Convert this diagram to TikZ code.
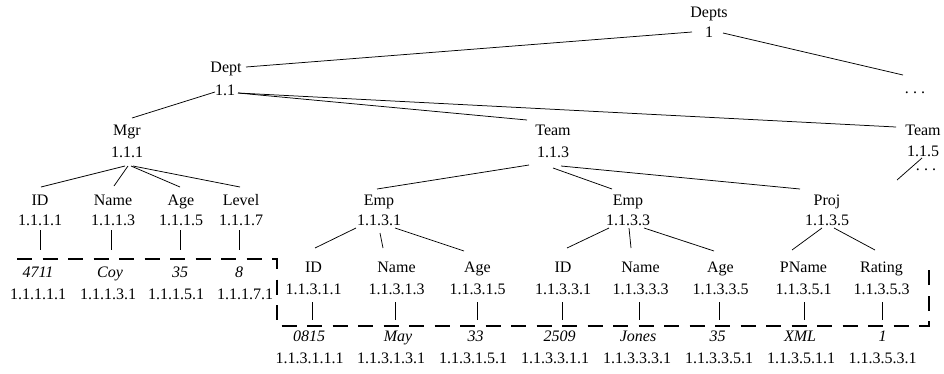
\documentclass[tikz,border=0pt]{standalone}
\usepackage{fontspec}
\setmainfont{Liberation Serif}
\newcommand{\mydots}{.\kern4.2pt.\kern4.2pt.}
\begin{document}
\begin{tikzpicture}[x=1pt,y=-1pt,
  lbl/.style={inner sep=0pt,anchor=base,font=\fontsize{16}{20}\selectfont},
  val/.style={lbl,font=\fontsize{16}{20}\selectfont\itshape},
  edge/.style={line width=0.75pt},
  dashbox/.style={line width=2.6pt,dash pattern=on 15pt off 10.5pt}]
\useasboundingbox (0,0) rectangle (944,373);
% level 0
\node[lbl] (depts) at (709,17) {Depts};
\node[lbl] (depts-i) at (709,37) {1};
% level 1
\node[lbl] (dept) at (226,72) {Dept};
\node[lbl] (dept-i) at (225,95) {1.1};
\node[lbl] (dots1) at (915,93) {\mydots};
% level 2
\node[lbl] (mgr) at (127,135) {Mgr};
\node[lbl] (mgr-i) at (127,157) {1.1.1};
\node[lbl] (team1) at (553,135) {Team};
\node[lbl] (team1-i) at (553,157) {1.1.3};
\node[lbl] (team2) at (923,135) {Team};
\node[lbl] (team2-i) at (923,156) {1.1.5};
\node[lbl] (dots2) at (926,170) {\mydots};
\coordinate (e6end) at (897,180);
% level 3
\node[lbl] (id1) at (40,205) {ID};
\node[lbl] (id1-i) at (40,225) {1.1.1.1};
\node[lbl] (name1) at (113,205) {Name};
\node[lbl] (name1-i) at (113,225) {1.1.1.3};
\node[lbl] (age1) at (181,205) {Age};
\node[lbl] (age1-i) at (181,225) {1.1.1.5};
\node[lbl] (level) at (241,205) {Level};
\node[lbl] (level-i) at (241,225) {1.1.1.7};
\node[lbl] (emp1) at (379,205) {Emp};
\node[lbl] (emp1-i) at (379,225) {1.1.3.1};
\node[lbl] (emp2) at (628,205) {Emp};
\node[lbl] (emp2-i) at (628,225) {1.1.3.3};
\node[lbl] (proj) at (827,205) {Proj};
\node[lbl] (proj-i) at (827,225) {1.1.3.5};
% Mgr values
\node[val] (v1) at (38,277) {4711};
\node[lbl] (v1-i) at (38,299) {1.1.1.1.1};
\node[val] (v2) at (110,277) {Coy};
\node[lbl] (v2-i) at (108,299) {1.1.1.3.1};
\node[val] (v3) at (180,277) {35};
\node[lbl] (v3-i) at (176,299) {1.1.1.5.1};
\node[val] (v4) at (239,277) {8};
\node[lbl] (v4-i) at (245,299) {1.1.1.7.1};
% level 4 (team leaves)
\node[lbl] (id2) at (313.5,272) {ID};
\node[lbl] (id2-i) at (313.5,294) {1.1.3.1.1};
\node[lbl] (name2) at (396.5,272) {Name};
\node[lbl] (name2-i) at (396.5,294) {1.1.3.1.3};
\node[lbl] (age2) at (477.5,272) {Age};
\node[lbl] (age2-i) at (477.5,294) {1.1.3.1.5};
\node[lbl] (id3) at (563,272) {ID};
\node[lbl] (id3-i) at (563,294) {1.1.3.3.1};
\node[lbl] (name3) at (640.5,272) {Name};
\node[lbl] (name3-i) at (640.5,294) {1.1.3.3.3};
\node[lbl] (age3) at (720.5,272) {Age};
\node[lbl] (age3-i) at (720.5,294) {1.1.3.3.5};
\node[lbl] (pname) at (803.5,272) {PName};
\node[lbl] (pname-i) at (803.5,294) {1.1.3.5.1};
\node[lbl] (rating) at (881.5,272) {Rating};
\node[lbl] (rating-i) at (881.5,294) {1.1.3.5.3};
% level 5 values
\node[val] (w1) at (309,341) {0815};
\node[lbl] (w1-i) at (309.5,363) {1.1.3.1.1.1};
\node[val] (w2) at (398,341) {May};
\node[lbl] (w2-i) at (391,363) {1.1.3.1.3.1};
\node[val] (w3) at (475.5,341) {33};
\node[lbl] (w3-i) at (473,363) {1.1.3.1.5.1};
\node[val] (w4) at (559.5,341) {2509};
\node[lbl] (w4-i) at (555,363) {1.1.3.3.1.1};
\node[val] (w5) at (638,341) {Jones};
\node[lbl] (w5-i) at (637,363) {1.1.3.3.3.1};
\node[val] (w6) at (717.5,341) {35};
\node[lbl] (w6-i) at (719,363) {1.1.3.3.5.1};
\node[val] (w7) at (800,341) {XML};
\node[lbl] (w7-i) at (801,363) {1.1.3.5.1.1};
\node[val] (w8) at (882.5,341) {1};
\node[lbl] (w8-i) at (882.5,363) {1.1.3.5.3.1};
% edges
\draw[edge] ([shift={(-17,-5)}]depts-i.base) -- ([shift={(20,-5)}]dept.base);
\draw[edge] ([shift={(14,-4)}]depts-i.base) -- ([shift={(-12,-18)}]dots1.base);
\draw[edge] ([shift={(-10,-3)}]dept-i.base) -- ([shift={(5,-17)}]mgr.base);
\draw[edge] ([shift={(13,-2)}]dept-i.base) -- ([shift={(-26,-15)}]team1.base);
\draw[edge] ([shift={(13,-2)}]dept-i.base) -- ([shift={(-27,-8)}]team2.base);
\draw[edge] ([shift={(-1,2)}]team2-i.base) -- (e6end);
\draw[edge] ([shift={(-2,9)}]mgr-i.base) -- ([shift={(1,-18)}]id1.base);
\draw[edge] ([shift={(1,9)}]mgr-i.base) -- ([shift={(1,-19)}]name1.base);
\draw[edge] ([shift={(4,9)}]mgr-i.base) -- ([shift={(-1,-18)}]age1.base);
\draw[edge] ([shift={(6,9)}]mgr-i.base) -- ([shift={(-1,-18)}]level.base);
\draw[edge] ([shift={(-24,8)}]team1-i.base) -- ([shift={(-2,-16)}]emp1.base);
\draw[edge] ([shift={(0,11)}]team1-i.base) -- ([shift={(-16,-16)}]emp2.base);
\draw[edge] ([shift={(8,9)}]team1-i.base) -- ([shift={(-27,-16)}]proj.base);
\draw[edge] ([shift={(-23,3)}]emp1-i.base) -- ([shift={(1.5,-24)}]id2.base);
\draw[edge] ([shift={(1,8)}]emp1-i.base) -- ([shift={(-13.5,-24)}]name2.base);
\draw[edge] ([shift={(16,3)}]emp1-i.base) -- ([shift={(-13.5,-21)}]age2.base);
\draw[edge] ([shift={(-19,3)}]emp2-i.base) -- ([shift={(4,-24)}]id3.base);
\draw[edge] ([shift={(1,3)}]emp2-i.base) -- ([shift={(-9.5,-24)}]name3.base);
\draw[edge] ([shift={(16,3)}]emp2-i.base) -- ([shift={(-6.5,-21)}]age3.base);
\draw[edge] ([shift={(-5,3)}]proj-i.base) -- ([shift={(-11.5,-22)}]pname.base);
\draw[edge] ([shift={(7,3)}]proj-i.base) -- ([shift={(-6.5,-22)}]rating.base);
% vertical connectors to values
\draw[edge] ([shift={(0,5)}]id1-i.base) -- ([shift={(2,-27)}]v1.base);
\draw[edge] ([shift={(-2,5)}]name1-i.base) -- ([shift={(1,-27)}]v2.base);
\draw[edge] ([shift={(-1,5)}]age1-i.base) -- ([shift={(0,-27)}]v3.base);
\draw[edge] ([shift={(-2,5)}]level-i.base) -- ([shift={(0,-27)}]v4.base);
\draw[edge] ([shift={(-1.5,8)}]id2-i.base) -- ([shift={(3,-21)}]w1.base);
\draw[edge] ([shift={(-1.5,8)}]name2-i.base) -- ([shift={(-3,-21)}]w2.base);
\draw[edge] ([shift={(-0.5,8)}]age2-i.base) -- ([shift={(1.5,-21)}]w3.base);
\draw[edge] ([shift={(-1,8)}]id3-i.base) -- ([shift={(2.5,-21)}]w4.base);
\draw[edge] ([shift={(-1.5,8)}]name3-i.base) -- ([shift={(1,-21)}]w5.base);
\draw[edge] ([shift={(-1.5,8)}]age3-i.base) -- ([shift={(1.5,-21)}]w6.base);
\draw[edge] ([shift={(0.5,8)}]pname-i.base) -- ([shift={(4,-21)}]w7.base);
\draw[edge] ([shift={(0.5,8)}]rating-i.base) -- ([shift={(-0.5,-21)}]w8.base);
% dashed boundary
\draw[dashbox] (17,259) -- (277,259) -- (277,326) -- (929,326) -- (929,270);
\end{tikzpicture}
\end{document}
